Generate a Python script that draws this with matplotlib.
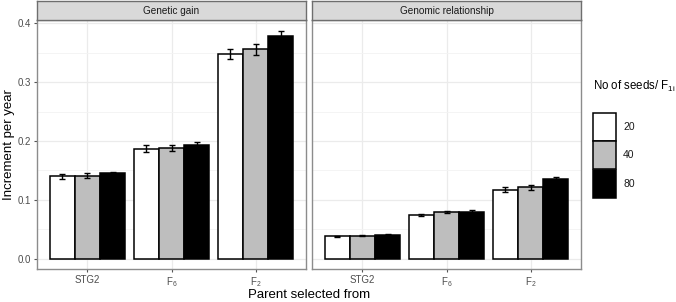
import matplotlib
matplotlib.use('Agg')
import matplotlib.pyplot as plt
from matplotlib.patches import Rectangle
import numpy as np

plt.rcParams['font.family'] = ['Liberation Sans', 'DejaVu Sans']

# data
categories = ['STG2', 'F$_\\mathregular{6}$', 'F$_\\mathregular{2}$']
seeds = ['20', '40', '80']
panels = ['Genetic gain', 'Genomic relationship']

gain_mean = {
    '20': [0.140, 0.187, 0.348],
    '40': [0.141, 0.188, 0.356],
    '80': [0.145, 0.194, 0.378],
}
gain_err = {
    '20': [0.004, 0.006, 0.009],
    '40': [0.004, 0.005, 0.009],
    '80': [0.003, 0.004, 0.009],
}
rel_mean = {
    '20': [0.038, 0.074, 0.117],
    '40': [0.039, 0.079, 0.121],
    '80': [0.041, 0.080, 0.135],
}
rel_err = {
    '20': [0.001, 0.002, 0.004],
    '40': [0.001, 0.002, 0.004],
    '80': [0.001, 0.002, 0.003],
}

# style
_fills = {'20': 'white', '40': '#bebebe', '80': 'black'}
_W, _H = 676, 302
_barw = 0.3
_border = '#8c8c8c'
_grid = '#ebebeb'


def px_axes(fig, x0, y0, x1, y1):
    # pixel box (top-down coordinates) -> figure axes
    return fig.add_axes([x0 / _W, 1 - y1 / _H, (x1 - x0) / _W, (y1 - y0) / _H])


fig = plt.figure(figsize=(_W / 100, _H / 100), dpi=100)

boxes = [(37, 306), (312, 581)]
data = [(gain_mean, gain_err), (rel_mean, rel_err)]
x = np.arange(1, len(categories) + 1)

for i, ((x0, x1), (mean_d, err_d), title) in enumerate(zip(boxes, data, panels)):
    ax = px_axes(fig, x0, 20, x1, 269)
    ax.set_xlim(0.4, 3.6)
    ax.set_ylim(-0.0176, 0.4057)
    ax.set_axisbelow(True)
    ax.set_yticks([0.0, 0.1, 0.2, 0.3, 0.4])
    ax.set_yticks([0.05, 0.15, 0.25, 0.35], minor=True)
    ax.set_xticks(x)
    ax.set_xticklabels(categories)
    ax.grid(which='major', color=_grid, lw=0.9)
    ax.grid(which='minor', axis='y', color='#f3f3f3', lw=0.6)
    for s in ax.spines.values():
        s.set_color(_border)
        s.set_linewidth(1.0)
    ax.tick_params(axis='both', colors='#555555', labelcolor='#4d4d4d',
                   labelsize=7, length=2.5, width=0.8, pad=2)
    ax.tick_params(which='minor', length=0)
    if i == 1:
        ax.tick_params(axis='y', left=False, labelleft=False)
    else:
        ax.set_yticklabels(['0.0', '0.1', '0.2', '0.3', '0.4'])

    for j, sd in enumerate(seeds):
        xpos = x + (j - 1) * _barw
        ax.bar(xpos, mean_d[sd], width=_barw, color=_fills[sd],
               edgecolor='black', linewidth=1.1, zorder=2)
        ax.errorbar(xpos, mean_d[sd], yerr=err_d[sd], fmt='none',
                    ecolor='black', elinewidth=1.0, capsize=2.2,
                    capthick=1.0, zorder=3)

    # facet strip
    sax = px_axes(fig, x0, 1, x1, 20)
    sax.set_xticks([])
    sax.set_yticks([])
    sax.set_facecolor('#d9d9d9')
    for s in sax.spines.values():
        s.set_color('#6e6e6e')
        s.set_linewidth(1.0)
    sax.text(0.5, 0.5, title, ha='center', va='center', fontsize=7.2,
             color='#1a1a1a', transform=sax.transAxes)

# axis titles
fig.text(9 / _W, 1 - 145 / _H, 'Increment per year', rotation=90,
         ha='center', va='center', fontsize=9.5)
fig.text(309 / _W, 1 - 295 / _H, 'Parent selected from',
         ha='center', va='center', fontsize=9.5)

# legend
fig.text(593 / _W, 1 - 86 / _H, 'No of seeds/ F$_\\mathregular{1i}$',
         ha='left', va='center', fontsize=8.3)
key_top = [113, 141, 170]
for sd, yt in zip(seeds, key_top):
    fig.patches.append(Rectangle((593 / _W, 1 - (yt + 28) / _H), 23 / _W, 28 / _H,
                                 facecolor=_fills[sd], edgecolor='black',
                                 linewidth=1.1, transform=fig.transFigure))
    fig.text(623 / _W, 1 - (yt + 14) / _H, sd, ha='left', va='center',
             fontsize=7.5, color='#1a1a1a')

fig.savefig('out.png', dpi=100)
